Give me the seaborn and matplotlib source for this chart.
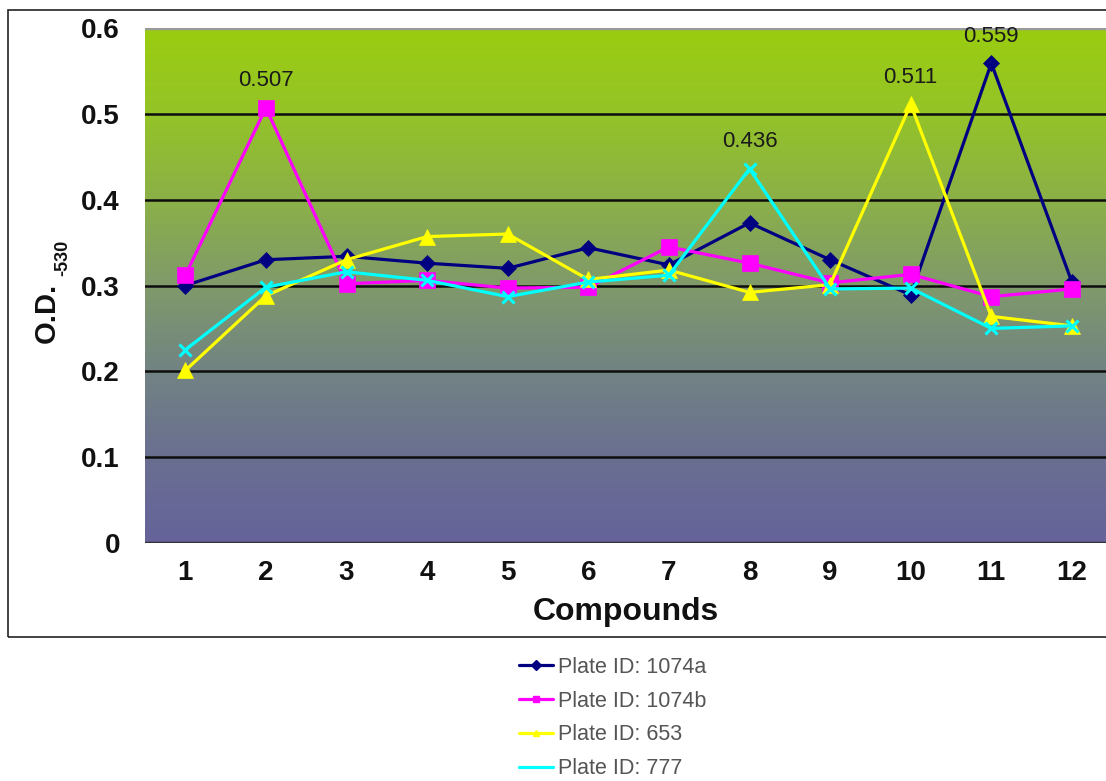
import numpy as np
import pandas as pd
import matplotlib
matplotlib.use("Agg")
import matplotlib.pyplot as plt
from matplotlib.colors import LinearSegmentedColormap
from matplotlib.lines import Line2D
from matplotlib.patches import Rectangle
import seaborn as sns

# ---- data -------------------------------------------------------------
compounds = [1, 2, 3, 4, 5, 6, 7, 8, 9, 10, 11, 12]
plate_1074a = [0.300, 0.330, 0.334, 0.326, 0.320, 0.344, 0.324, 0.373, 0.330, 0.289, 0.559, 0.304]
plate_1074b = [0.312, 0.507, 0.302, 0.306, 0.297, 0.298, 0.345, 0.326, 0.303, 0.313, 0.287, 0.296]
plate_653 = [0.201, 0.288, 0.330, 0.357, 0.360, 0.307, 0.318, 0.292, 0.301, 0.511, 0.264, 0.253]
plate_777 = [0.225, 0.298, 0.316, 0.306, 0.287, 0.304, 0.312, 0.436, 0.296, 0.297, 0.250, 0.253]
series_names = ["Plate ID: 1074a", "Plate ID: 1074b", "Plate ID: 653", "Plate ID: 777"]
y_ticks = [0, 0.1, 0.2, 0.3, 0.4, 0.5, 0.6]
y_ticklabels = ["0", "0.1", "0.2", "0.3", "0.4", "0.5", "0.6"]

series_values = [plate_1074a, plate_1074b, plate_653, plate_777]
df = pd.concat(
    [pd.DataFrame({"Compound": compounds, "OD": v, "Plate": n})
     for n, v in zip(series_names, series_values)],
    ignore_index=True,
)

# ---- styles -----------------------------------------------------------
styles = {
    "Plate ID: 1074a": dict(color="#000080", marker="D", ms=8, mew=0.5),
    "Plate ID: 1074b": dict(color="#FF00FF", marker="s", ms=11, mew=0.5),
    "Plate ID: 653": dict(color="#FFFF00", marker="^", ms=12, mew=0.5),
    "Plate ID: 777": dict(color="#00FFFF", marker="x", ms=9, mew=2.2),
}

sns.set_theme(style="white")
plt.rcParams["font.family"] = ["Liberation Sans", "DejaVu Sans"]

fig = plt.figure(figsize=(11.06, 7.81), dpi=100)
fig.patch.set_facecolor("white")

# outer chart frame
fig.patches.append(Rectangle((8 / 1106, 1 - 637 / 781), 1.2, (637 - 10) / 781,
                             transform=fig.transFigure, fill=False,
                             edgecolor="#222222", linewidth=1.2, zorder=0))

ax = fig.add_axes([145 / 1106, (781 - 543) / 781, (1106 - 145) / 1106, (543 - 28) / 781])
x_lo, x_hi = 0.5, 0.5 + (1106 - 145) / 80.6
ax.set_xlim(x_lo, x_hi)
ax.set_ylim(0, 0.6)

# vertical gradient plot-area fill
grad = LinearSegmentedColormap.from_list("plotfill", [
    (0.0, "#65639A"),
    (1 / 6, "#6A6F90"),
    (2 / 6, "#728383"),
    (3 / 6, "#809A6A"),
    (4 / 6, "#8BB048"),
    (5 / 6, "#94C328"),
    (1.0, "#9ACD10"),
])
ax.imshow(np.linspace(0, 1, 256).reshape(-1, 1), cmap=grad, aspect="auto",
          origin="lower", extent=[x_lo, x_hi, 0, 0.6], zorder=0)

# horizontal gridlines
for yv in y_ticks[1:-1]:
    ax.axhline(yv, color="#0d0d0d", linewidth=1.8, zorder=1)
ax.axhline(0, color="#333333", linewidth=2.5, zorder=1)
ax.axhline(0.6, color="#999999", linewidth=2.5, zorder=1)

for i, name in enumerate(series_names):
    st = styles[name]
    sub = df[df["Plate"] == name]
    sns.lineplot(data=sub, x="Compound", y="OD", ax=ax, color=st["color"],
                 linewidth=2.3, marker=st["marker"], markersize=st["ms"],
                 markeredgecolor=st["color"], markerfacecolor=st["color"],
                 markeredgewidth=st["mew"], legend=False, zorder=3 + i)
    # value label on the peak of each series
    k = int(np.argmax(sub["OD"].values))
    ax.annotate(f"{sub['OD'].values[k]:.3f}", (sub["Compound"].values[k], sub["OD"].values[k]),
                xytext=(0, 12), textcoords="offset points", ha="center", va="bottom",
                fontsize=16, color="#1a1a1a", zorder=10)

for s in ax.spines.values():
    s.set_visible(False)

ax.set_xticks(compounds)
ax.set_xticklabels([str(c) for c in compounds], fontsize=20, fontweight="bold")
ax.set_yticks(y_ticks)
ax.set_yticklabels(y_ticklabels, fontsize=20, fontweight="bold")
ax.tick_params(axis="both", length=0, colors="#111111")
ax.tick_params(axis="y", pad=18)
ax.tick_params(axis="x", pad=12)

ax.set_xlabel("Compounds", fontsize=23, fontweight="bold", color="#111111", labelpad=8)
ax.set_ylabel("")

# y-axis title with a small subscript
fig.text(47 / 1106, 1 - 343 / 781, "O.D.", rotation=90, ha="center", va="bottom",
         fontsize=21, fontweight="bold", color="#111111")
fig.text(63 / 1106, 1 - 276 / 781, "-530", rotation=90, ha="center", va="bottom",
         fontsize=13, fontweight="bold", color="#111111")

# legend below the chart frame
handles = [
    Line2D([], [], color=styles[n]["color"], linewidth=2.3,
           marker=styles[n]["marker"], markersize=5 if styles[n]["marker"] != "x" else 0,
           markerfacecolor=styles[n]["color"], markeredgecolor=styles[n]["color"])
    for n in series_names
]
leg = fig.legend(handles, series_names, loc="upper left",
                 bbox_to_anchor=(510 / 1106, 1 - 648 / 781),
                 frameon=False, fontsize=15.5, handlelength=1.6, handletextpad=0.25,
                 labelspacing=0.6, borderaxespad=0)
for t in leg.get_texts():
    t.set_color("#555555")

fig.savefig("out.png", dpi=100)
